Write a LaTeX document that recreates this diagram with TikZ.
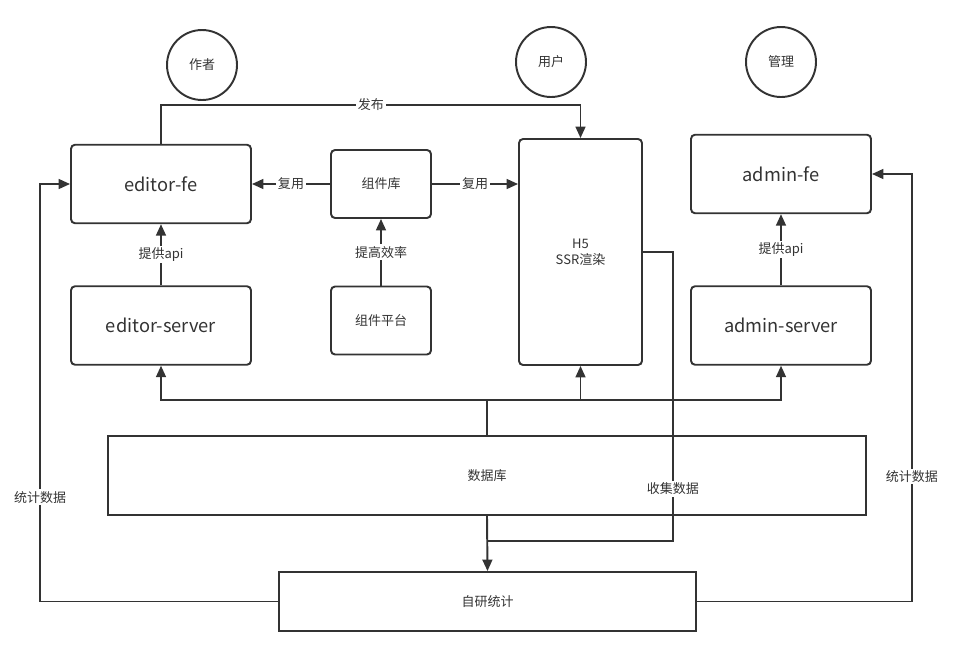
\documentclass[tikz,border=0pt]{standalone}
\usepackage{fontspec}
\setmainfont{Noto Sans CJK SC}
\usepackage{xcolor}
\usetikzlibrary{arrows.meta}
\definecolor{ink}{HTML}{333333}

\begin{document}
\begin{tikzpicture}[x=0.02cm,y=-0.02cm,line width=1.1pt,color=ink,
  small/.style={font=\fontsize{7.4}{9}\selectfont},
  role/.style={draw,circle,minimum size=1.4cm,small},
  svc/.style={draw,rounded corners=0.08cm,minimum width=3.6cm,minimum height=1.57cm,font=\fontsize{10.4}{12}\selectfont},
  part/.style={draw,rounded corners=0.08cm,minimum width=2cm,minimum height=1.36cm,small},
  plain/.style={draw,minimum height=1.58cm,small},
  lbl/.style={fill=white,inner sep=1pt,small},
  arr/.style={-{Triangle[length=6.5pt,width=5.6pt]}}]

\useasboundingbox (0,0) rectangle (953,656);

% Roles
\node[role] (author) at (202,65) {作者};
\node[role] (user) at (551,62) {用户};
\node[role] (admin) at (781,62) {管理};

% Front ends and servers
\node[svc] (efe) at (161,184) {editor-fe};
\node[svc] (es) at (161,325.5) {editor-server};
\node[svc] (afe) at (781,174) {admin-fe};
\node[svc] (as) at (781,325.5) {admin-server};

% Components
\node[part] (lib) at (381,184) {组件库};
\node[part] (plat) at (381,320.5) {组件平台};
\node[draw,rounded corners=0.08cm,minimum width=2.46cm,minimum height=4.52cm,small,align=center]
  (h5) at (580.5,252) {H5\\SSR渲染};

% Storage and statistics
\node[plain,minimum width=15.16cm] (db) at (487,475.5) {数据库};
\node[plain,minimum width=8.34cm,minimum height=1.18cm] (stat) at (487.5,601.5) {自研统计};

% Publish and reuse
\draw[arr] (efe.north) -- ++(0,-39) -| node[lbl,pos=0.25] {发布} (h5.north);
\draw[arr] (lib.west) -- node[lbl] {复用} (efe.east);
\draw[arr] (lib.east) -- node[lbl] {复用} (lib.east -| h5.west);
\draw[arr] (plat.north) -- node[lbl] {提高效率} (lib.south);
\draw[arr] (es.north) -- node[lbl] {提供api} (efe.south);
\draw[arr] (as.north) -- node[lbl] {提供api} (afe.south);

% Database feeds the servers
\draw (db.north) -- ++(0,-35) coordinate (bus);
\draw[arr] (bus) -| (es.south);
\draw[arr] (bus) -| (h5.south);
\draw[arr] (bus) -| (as.south);
\draw[arr] (db.south) -- (stat.north);

% Collected data
\draw (h5.east) -- ++(30,0) |- node[lbl,pos=0.41] {收集数据} (db.south |- 0,541);

% Statistics back to the front ends
\draw[arr] (stat.west) -- ++(-238,0) |- node[lbl,pos=0.125] {统计数据} (efe.west);
\draw[arr] (stat.east) -- ++(215,0) |- node[lbl,pos=0.146] {统计数据} (afe.east);

\end{tikzpicture}
\end{document}
